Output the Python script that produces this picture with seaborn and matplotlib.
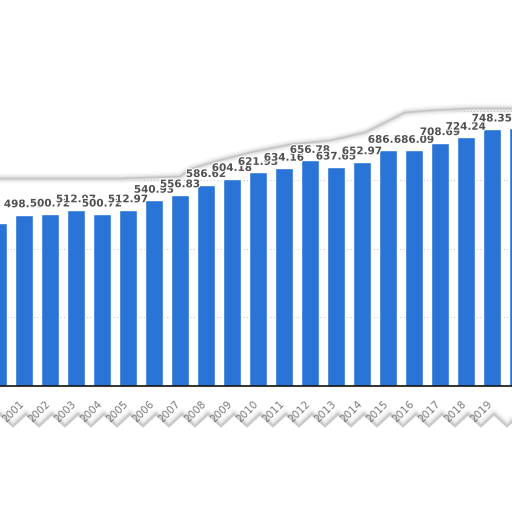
import numpy as np
import pandas as pd
import matplotlib
matplotlib.use('Agg')
import matplotlib.pyplot as plt
import matplotlib.transforms as mtransforms
import seaborn as sns
from matplotlib import patheffects as pe

# Data
years = ['2000', '2001', '2002', '2003', '2004', '2005', '2006', '2007', '2008', '2009', '2010',
         '2011', '2012', '2013', '2014', '2015', '2016', '2017', '2018', '2019', '2020']
values = [475.09, 498.55, 500.72, 512.97, 500.72, 512.97, 540.93, 556.83, 586.62, 604.18, 621.93,
          634.16, 656.78, 637.65, 652.97, 686.37, 686.09, 708.69, 724.24, 748.35, 751.62]
grid_ticks = [200, 400, 600, 800]

df = pd.DataFrame({'year': years, 'value': values})

sns.set_style('white')
plt.rcParams['font.family'] = ['DejaVu Sans']

W = 512
fig = plt.figure(figsize=(5.12, 5.12), dpi=100)
ax = fig.add_axes([0, 126 / W, 1, 386 / W])

sns.barplot(data=df, x='year', y='value', color='#2a74d8', saturation=1,
            width=0.69, ax=ax, zorder=1)

ax.set_xlim(0.077, 19.77)
ax.set_ylim(0, 1124)
ax.set_yticks(grid_ticks)
ax.set_yticklabels([])
ax.yaxis.grid(True, linestyle=(0, (1, 2)), color='#c8c8c8', linewidth=0.8)
ax.set_axisbelow(True)
ax.set_xlabel('')
ax.set_ylabel('')
for s in ['top', 'right', 'left']:
    ax.spines[s].set_visible(False)
ax.spines['bottom'].set_color('#111111')
ax.spines['bottom'].set_linewidth(1.2)
ax.tick_params(axis='both', length=0)
ax.tick_params(axis='x', pad=9)
shift = mtransforms.ScaledTranslation(-5 / 100, 0, fig.dpi_scale_trans)
for t in ax.get_xticklabels():
    t.set_rotation(45)
    t.set_ha('right')
    t.set_rotation_mode('anchor')
    t.set_color('#7a7a7a')
    t.set_fontsize(7.5)
    t.set_transform(t.get_transform() + shift)

# value labels on top of bars
labels = ax.bar_label(ax.containers[0], labels=[f'{v:.2f}' for v in values], padding=4,
                      fontsize=7.5, fontweight='bold', color='#505050', zorder=3)
for t in labels:
    t.set_path_effects([pe.withStroke(linewidth=1.5, foreground='white')])

# torn paper edge at the top
tx = np.array([0, 120, 180, 192, 215, 250, 290, 330, 365, 385, 405, 430, 470, 512]) / W
ty = 1 - np.array([180, 180, 178, 170, 163, 154, 146, 142, 134, 124, 114, 112, 110, 110]) / W
ax.fill_between(tx, ty, 1, transform=fig.transFigure, color='white', zorder=0.8)
for lw, a in [(7, 0.05), (5, 0.08), (3, 0.14), (1.2, 0.3)]:
    ax.plot(tx, ty + 1.5 / W, transform=fig.transFigure, color='#888888', lw=lw, alpha=a,
            zorder=0.85, solid_capstyle='round')

# torn paper edge at the bottom
bx = np.arange(-13, 530, 13) / W
by = 1 - np.where(np.arange(len(bx)) % 2 == 0, 426, 414) / W
for lw, a in [(8, 0.05), (5, 0.08), (3, 0.12), (1.5, 0.2)]:
    ax.plot(bx, by, transform=fig.transFigure, color='#777777', lw=lw, alpha=a,
            zorder=0.85, clip_on=False)
ax.fill_between(bx, by - 3 / W, 0, transform=fig.transFigure, color='white',
                zorder=0.86, clip_on=False)

fig.savefig('out.png', dpi=100)
